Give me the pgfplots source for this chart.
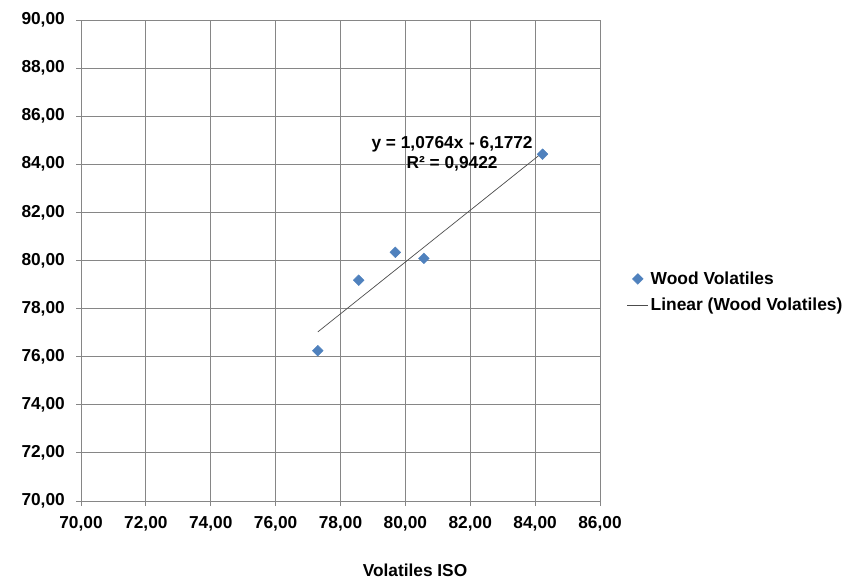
\documentclass[border=0pt]{standalone}
\usepackage{pgfplots}
\pgfplotsset{compat=1.18}
\usepackage{fontspec}
\setmainfont{Liberation Sans}
\definecolor{ser}{HTML}{4F81BD}
\definecolor{gridc}{HTML}{868686}
\pgfplotsset{
  mylegmark/.style={legend image code/.code={\draw[mark repeat=2,mark phase=2,##1] plot coordinates {(0pt,0pt)(10.5pt,0pt)(21pt,0pt)};}},
  mylegline/.style={legend image code/.code={\draw[##1] (0pt,0pt) -- (21pt,0pt);}},
}
\begin{document}
\begin{tikzpicture}[x=1pt,y=1pt]
\useasboundingbox (0,0) rectangle (856,585);
\begin{axis}[
  at={(81pt,84pt)}, anchor=south west,
  scale only axis, width=519pt, height=481pt,
  xmin=70, xmax=86, ymin=70, ymax=90,
  xtick={70,72,...,86}, ytick={70,72,...,90},
  grid=major,
  major grid style={gridc, line width=0.8pt},
  axis line style={gridc, line width=0.8pt},
  tick style={gridc, line width=0.8pt},
  tick align=outside, major tick length=5pt,
  xtick pos=bottom, ytick pos=left,
  /pgf/number format/.cd, fixed, fixed zerofill, precision=2, use comma, assume math mode=true,
  /pgfplots/.cd,
  ticklabel style={font=\fontsize{17.3}{20}\selectfont\bfseries, inner sep=0pt},
  yticklabel style={anchor=east, xshift=-11pt},
  xticklabel style={anchor=north, yshift=-10pt},
  legend style={at={(1.052,0.4345)}, anchor=west, draw=none, fill=none,
    inner sep=0pt, outer sep=0pt,
    font=\fontsize{17.4}{20}\selectfont\bfseries, row sep=8pt,
    nodes={inner sep=2pt}},
  legend cell align=left,
]
\addplot[only marks, mark=square*, mark size=3.8pt, color=ser,
  mark options={rotate=45, fill=ser, draw=ser}, mylegmark]
  coordinates {(77.30,76.25) (78.56,79.18) (79.69,80.34) (80.57,80.09) (84.23,84.42)};
\addlegendentry{Wood Volatiles}
\addplot[black!70, line width=0.7pt, no marks, mylegline]
  coordinates {(77.30,77.03) (84.23,84.49)};
\addlegendentry{Linear (Wood Volatiles)}
\node[align=center, font=\fontsize{17.3}{20}\selectfont\bfseries, inner sep=0pt] at (axis cs:81.44,84.42)
  {y = 1,0764x\,\,- 6,1772\\R² = 0,9422};
\end{axis}
\node[font=\fontsize{17.3}{20}\selectfont\bfseries, inner sep=0pt, anchor=base] at (415,8) {Volatiles ISO};
\end{tikzpicture}
\end{document}
